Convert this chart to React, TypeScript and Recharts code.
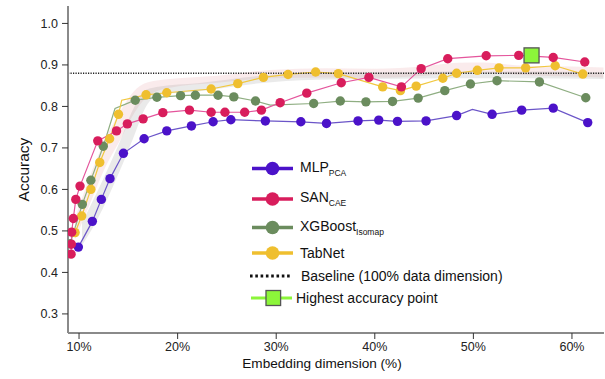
import React from 'react';
import { ComposedChart, Line, Area, Scatter, XAxis, YAxis } from 'recharts';

// ---------- data ----------
const xTicks = [10, 20, 30, 40, 50, 60];
const yTicks = [0.3, 0.4, 0.5, 0.6, 0.7, 0.8, 0.9, 1.0];
const xDomain: [number, number] = [8.88, 63.25];
const yDomain: [number, number] = [0.254, 1.042];
const baselineAccuracy = 0.88;

// [embedding dimension %, accuracy, marker (1) / line vertex only (0)]
const mlpPca = [
  [9.93, 0.461, 1], [11.35, 0.523, 1], [12.26, 0.576, 1], [13.14, 0.626, 1], [14.5, 0.687, 1],
  [16.6, 0.722, 1], [18.9, 0.741, 1], [21.4, 0.753, 1], [23.6, 0.763, 1], [25.4, 0.768, 1],
  [28.9, 0.765, 1], [32.5, 0.763, 1], [35.1, 0.759, 1], [38.3, 0.765, 1], [40.4, 0.767, 1],
  [42.3, 0.764, 1], [45.2, 0.765, 1], [48.3, 0.778, 1], [49.9, 0.793, 0], [51.9, 0.781, 1],
  [54.9, 0.791, 1], [58.1, 0.796, 1], [61.6, 0.761, 1],
];
const sanCae = [
  [9.19, 0.444, 1], [9.22, 0.468, 1], [9.25, 0.497, 1], [9.42, 0.53, 1], [9.67, 0.576, 1],
  [10.1, 0.608, 1], [11.9, 0.717, 1], [13.8, 0.741, 1], [14.9, 0.758, 1], [16.5, 0.77, 1],
  [18.5, 0.785, 1], [21.2, 0.791, 1], [23.4, 0.786, 1], [24.8, 0.786, 1], [26.8, 0.786, 1],
  [28.5, 0.791, 1], [30.4, 0.809, 1], [33.1, 0.832, 1], [36.6, 0.857, 1], [39.4, 0.87, 1],
  [42.7, 0.847, 1], [44.7, 0.891, 1], [47.4, 0.915, 1], [51.3, 0.922, 1], [54.6, 0.923, 1],
  [58.1, 0.918, 1], [61.3, 0.907, 1],
];
const xgbIsomap = [
  [9.09, 0.469, 1], [10.33, 0.564, 1], [11.2, 0.622, 1], [12.46, 0.704, 1], [13.65, 0.795, 0],
  [15.7, 0.815, 1], [17.9, 0.822, 1], [20.3, 0.826, 1], [21.8, 0.827, 1], [24.1, 0.827, 1],
  [25.7, 0.823, 1], [27.9, 0.813, 1], [29.4, 0.803, 0], [33.8, 0.807, 1], [36.5, 0.813, 1],
  [39.1, 0.811, 1], [41.8, 0.812, 1], [44.4, 0.82, 1], [47.1, 0.838, 1], [49.7, 0.854, 1],
  [52.4, 0.862, 1], [56.7, 0.859, 1], [61.4, 0.821, 1],
];
const tabNet = [
  [9.6, 0.496, 1], [10.27, 0.536, 1], [11.2, 0.6, 1], [12.1, 0.665, 1], [13.1, 0.722, 1],
  [14.0, 0.781, 1], [14.33, 0.815, 0], [16.8, 0.828, 1], [18.9, 0.833, 1], [23.4, 0.842, 1],
  [26.1, 0.855, 1], [28.7, 0.87, 1], [31.2, 0.877, 1], [34.0, 0.883, 1], [36.3, 0.879, 1],
  [40.8, 0.847, 1], [42.6, 0.838, 1], [44.2, 0.849, 1], [46.9, 0.868, 1], [48.3, 0.88, 1],
  [50.4, 0.887, 1], [52.6, 0.893, 1], [55.3, 0.893, 1], [58.3, 0.898, 1], [61.1, 0.878, 1],
];
const highestPoint = [[55.9, 0.923]];

// faint variability bands: [x, low, high]
const pinkBand = [
  [9.6, 0.48, 0.53], [11.1, 0.565, 0.632], [12.5, 0.645, 0.712], [14.3, 0.725, 0.793],
  [15.5, 0.78, 0.835], [17.0, 0.825, 0.858], [19.2, 0.845, 0.866], [24.0, 0.857, 0.874],
  [29.4, 0.868, 0.888], [35.0, 0.87, 0.892], [40.0, 0.869, 0.891], [45.0, 0.874, 0.897],
  [48.5, 0.88, 0.905], [51.0, 0.881, 0.906], [55.0, 0.876, 0.898], [60.0, 0.872, 0.896],
  [63.2, 0.87, 0.894],
];
const grayBand = [
  [10.3, 0.465, 0.52], [11.8, 0.525, 0.592], [14.1, 0.643, 0.713], [15.5, 0.724, 0.794],
  [16.8, 0.8, 0.84], [18.2, 0.828, 0.848], [22.0, 0.836, 0.856], [28.0, 0.855, 0.873],
  [34.0, 0.864, 0.882], [40.0, 0.866, 0.882], [48.0, 0.868, 0.884], [56.0, 0.868, 0.884],
  [63.2, 0.866, 0.882],
];

// ---------- build ----------
const toPts = (arr: number[][]) => arr.map(([x, y, m]) => ({ x, y, m }));
const toBand = (arr: number[][]) => arr.map(([x, lo, hi]) => ({ x, range: [lo, hi] }));

const series = [
  { key: 'mlp', name: 'MLP', sub: 'PCA', data: toPts(mlpPca), dot: '#4b12c9', line: '#6b55c8' },
  { key: 'xgb', name: 'XGBoost', sub: 'Isomap', data: toPts(xgbIsomap), dot: '#6b8c5e', line: '#8fae82' },
  { key: 'tab', name: 'TabNet', sub: '', data: toPts(tabNet), dot: '#efbf2f', line: '#f1c83f' },
  { key: 'san', name: 'SAN', sub: 'CAE', data: toPts(sanCae), dot: '#d81d5c', line: '#e4559c' },
];
const legendOrder = ['mlp', 'san', 'xgb', 'tab'];
const baselineData = [
  { x: xDomain[0], y: baselineAccuracy },
  { x: xDomain[1], y: baselineAccuracy },
];
const highestData = highestPoint.map(([x, y]) => ({ x, y }));

const FONT = '"Liberation Sans", Arial, Helvetica, sans-serif';
const AXIS_GRAY = '#8a8a8a';

const makeDot = (color: string) => (props: any) => {
  const { cx, cy, payload, index } = props;
  if (!payload || payload.m === 0 || cx == null || cy == null) return <g key={`h-${index}`} />;
  return <circle key={`d-${index}`} cx={cx} cy={cy} r={4.7} fill={color} stroke="none" />;
};

const squareShape = (p: any) => (
  <rect x={p.cx - 7.5} y={p.cy - 7.5} width={15} height={15} fill="#8cf53a" stroke="#555" strokeWidth={1.3} />
);

const Legend = () => {
  const rowH = [31, 30, 27, 24, 22, 22];
  const rows: any[] = legendOrder.map((k) => series.find((s) => s.key === k));
  return (
    <div style={{ position: 'absolute', left: 250, top: 152.5, fontFamily: FONT, fontSize: 14, color: '#111' }}>
      {rows.map((s, i) => (
        <div key={s.key} style={{ display: 'flex', alignItems: 'center', height: rowH[i] }}>
          <svg width={46} height={rowH[i]} style={{ display: 'block' }}>
            <line x1={2} x2={43} y1={rowH[i] / 2} y2={rowH[i] / 2} stroke={s.dot} strokeWidth={3.5} />
            <circle cx={22.5} cy={rowH[i] / 2} r={6.8} fill={s.dot} />
          </svg>
          <span style={{ marginLeft: 4, whiteSpace: 'nowrap' }}>
            {s.name}
            {s.sub ? <sub style={{ fontSize: 8.5, verticalAlign: -4 }}>{s.sub}</sub> : null}
          </span>
        </div>
      ))}
      <div style={{ display: 'flex', alignItems: 'center', height: rowH[4] }}>
        <svg width={46} height={rowH[4]} style={{ display: 'block' }}>
          <line x1={0} x2={42} y1={rowH[4] / 2} y2={rowH[4] / 2} stroke="#111" strokeWidth={2.8} strokeDasharray="2.6 2.7" />
        </svg>
        <span style={{ marginLeft: 5, whiteSpace: 'nowrap' }}>Baseline (100% data dimension)</span>
      </div>
      <div style={{ display: 'flex', alignItems: 'center', height: rowH[5] }}>
        <svg width={46} height={rowH[5]} style={{ display: 'block' }}>
          <line x1={1} x2={42} y1={rowH[5] / 2} y2={rowH[5] / 2} stroke="#8cf53a" strokeWidth={3} />
          <rect x={23.3 - 7.3} y={rowH[5] / 2 - 7.5} width={14.6} height={15} fill="#8cf53a" stroke="#555" strokeWidth={1.3} />
        </svg>
        <span style={{ marginLeft: 0, whiteSpace: 'nowrap' }}>Highest accuracy point</span>
      </div>
    </div>
  );
};

export default function App() {
  return (
    <div style={{ position: 'absolute', left: 0, top: 0, width: 605, height: 379, background: '#fff' }}>
      <ComposedChart width={605} height={379} margin={{ top: 6, right: 1, bottom: 0, left: 0 }} style={{ fontFamily: FONT }}>
        <XAxis
          type="number"
          dataKey="x"
          domain={xDomain}
          allowDataOverflow
          ticks={xTicks}
          tickFormatter={(v: number) => `${v}%`}
          height={46}
          axisLine={{ stroke: AXIS_GRAY, strokeWidth: 2 }}
          tickLine={{ stroke: '#333' }}
          tickSize={6}
          tickMargin={3}
          tick={{ fontSize: 12.5, fill: '#222', fontFamily: FONT }}
          label={{
            content: (props: any) => {
              const vb = props.viewBox || { x: 68, width: 536 };
              return (
                <text x={vb.x + vb.width / 2 - 14} y={363} textAnchor="middle" dominantBaseline="central" fontSize={13.6} fill="#111" fontFamily={FONT}>
                  Embedding dimension (%)
                </text>
              );
            },
          }}
        />
        <XAxis xAxisId="top" orientation="top" type="number" domain={xDomain} allowDataOverflow height={0} tick={false} tickLine={false} axisLine={{ stroke: AXIS_GRAY, strokeWidth: 2 }} />
        <YAxis
          type="number"
          domain={yDomain}
          allowDataOverflow
          ticks={yTicks}
          tickFormatter={(v: number) => v.toFixed(1)}
          width={68}
          axisLine={{ stroke: AXIS_GRAY, strokeWidth: 2 }}
          tickLine={{ stroke: '#333' }}
          tickSize={6}
          tickMargin={4}
          tick={{ fontSize: 12.5, fill: '#222', fontFamily: FONT }}
          label={{
            content: (props: any) => {
              const vb = props.viewBox || { y: 6, height: 327 };
              const cy = vb.y + vb.height / 2;
              return (
                <text x={23.5} y={cy} transform={`rotate(-90 23.5 ${cy})`} textAnchor="middle" dominantBaseline="central" fontSize={15.5} fill="#111" fontFamily={FONT}>
                  Accuracy
                </text>
              );
            },
          }}
        />
        <YAxis yAxisId="right" orientation="right" type="number" domain={yDomain} allowDataOverflow width={0} tick={false} tickLine={false} axisLine={{ stroke: AXIS_GRAY, strokeWidth: 2 }} />

        <Area data={toBand(pinkBand)} dataKey="range" type="monotone" stroke="none" fill="rgb(226,130,135)" fillOpacity={0.16} isAnimationActive={false} activeDot={false} />
        <Area data={toBand(grayBand)} dataKey="range" type="monotone" stroke="none" fill="rgb(150,150,150)" fillOpacity={0.2} isAnimationActive={false} activeDot={false} />

        {series.map((s) => (
          <Line
            key={s.key}
            data={s.data}
            dataKey="y"
            type="linear"
            stroke={s.line}
            strokeWidth={1.2}
            dot={makeDot(s.dot)}
            activeDot={false}
            isAnimationActive={false}
          />
        ))}

        <Line data={baselineData} dataKey="y" type="linear" stroke="#222" strokeWidth={1.3} strokeDasharray="1.2 1.3" dot={false} activeDot={false} isAnimationActive={false} />
        <Scatter data={highestData} dataKey="y" shape={squareShape} isAnimationActive={false} />
      </ComposedChart>
      <Legend />
    </div>
  );
}
